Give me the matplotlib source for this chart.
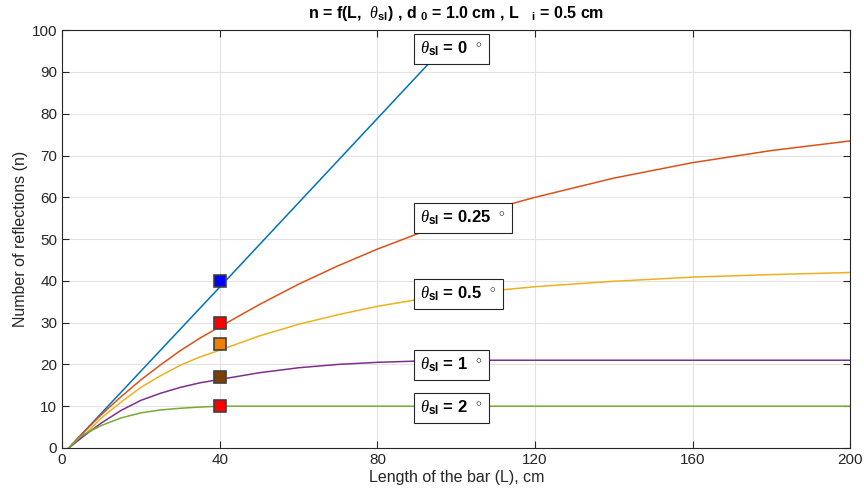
"""Number of reflections vs bar length for several taper angles."""

import matplotlib
matplotlib.use("Agg")
import matplotlib.pyplot as plt
import matplotlib as mpl

mpl.rcParams.update({
    "font.family": "Liberation Sans",
    "mathtext.fontset": "custom",
    "mathtext.rm": "Liberation Sans",
    "mathtext.bf": "Liberation Sans:bold",
    "mathtext.it": "Liberation Serif:italic",
    "axes.edgecolor": "#262626",
    "xtick.color": "#262626",
    "ytick.color": "#262626",
})

# curves (L in cm, n reflections)
L_blue = [1.7, 40, 93, 100]
n_blue = [0, 38.5, 92, 98.5]

L_red = [1.7, 5, 10, 15, 20, 25, 30, 35, 40, 50, 60, 70, 80, 90, 100, 110, 120, 140, 160, 180, 200]
n_red = [0, 3.3, 8.0, 12.3, 16.3, 19.9, 23.3, 26.3, 29.0, 34.3, 39.2, 43.6, 47.6, 51.2, 54.4,
         57.4, 60.0, 64.6, 68.3, 71.2, 73.5]

L_yel = [1.7, 5, 10, 15, 20, 25, 30, 35, 40, 50, 60, 70, 80, 90, 100, 120, 140, 160, 180, 200]
n_yel = [0, 2.5, 7.2, 11.0, 14.5, 17.3, 19.8, 21.8, 23.4, 26.8, 29.6, 31.9, 33.9, 35.5, 36.8,
         38.6, 39.9, 40.9, 41.5, 42.0]

L_pur = [1.7, 5, 10, 15, 20, 25, 30, 35, 40, 50, 60, 70, 80, 90, 100, 200]
n_pur = [0, 2.5, 6.0, 9.0, 11.4, 13.1, 14.5, 15.6, 16.4, 18.0, 19.2, 20.0, 20.5, 20.8, 21.0, 21.0]

L_grn = [1.7, 5, 10, 15, 20, 25, 30, 35, 40, 200]
n_grn = [0, 3.0, 5.4, 7.2, 8.4, 9.1, 9.5, 9.8, 10.0, 10.0]

# measured points at L = 40 cm
mark_L = [40, 40, 40, 40, 40]
mark_n = [40, 30, 25, 17, 10]
mark_colors = ["#0000FF", "#FF0000", "#F07F00", "#7F3F00", "#FF0000"]

angles = ["0", "0.25", "0.5", "1", "2"]
label_n = [95.5, 55.0, 36.8, 19.9, 9.6]

COLORS = ["#0072BD", "#D95319", "#EDB120", "#7E2F8E", "#77AC30"]

fig = plt.figure(figsize=(8.64, 4.95), dpi=100)
ax = fig.add_axes([0.0718, 0.095, 0.9125, 0.844])

curves = [(L_blue, n_blue), (L_red, n_red), (L_yel, n_yel), (L_pur, n_pur), (L_grn, n_grn)]
for (xs, ys), c in zip(curves, COLORS):
    ax.plot(xs, ys, color=c, lw=1.1, zorder=2)

for x, y, c in zip(mark_L, mark_n, mark_colors):
    ax.plot(x, y, marker="s", ms=9, mfc=c, mec="#404040", mew=1.2, ls="none", zorder=4)

for a, y in zip(angles, label_n):
    ax.text(90.8, y, r"$\theta_{\mathbf{sl}}$ = " + a + r"  $^{\circ}$",
            fontsize=12, fontweight="bold", va="center", ha="left", zorder=5,
            bbox=dict(boxstyle="square,pad=0.35", fc="white", ec="#262626", lw=0.8))

ax.set_xlim(0, 200)
ax.set_ylim(0, 100)
ax.set_xticks([0, 40, 80, 120, 160, 200])
ax.set_yticks(range(0, 101, 10))
ax.tick_params(direction="in", top=True, right=True, labelsize=11, length=5)
ax.grid(True, color="#e3e3e3", lw=0.8)
ax.set_axisbelow(True)

ax.set_xlabel("Length of the bar (L), cm", fontsize=11.5, color="#262626", labelpad=2)
ax.set_ylabel("Number of reflections (n)", fontsize=11.5, color="#262626", labelpad=3)
ax.set_title(r"n = f(L,  $\theta_{\mathbf{sl}}$) , d $_{\mathbf{0}}$ = 1.0 cm , L   $_{\mathbf{i}}$ = 0.5 cm",
             fontsize=11.5, fontweight="bold", pad=9)

fig.savefig("out.png", dpi=100)
